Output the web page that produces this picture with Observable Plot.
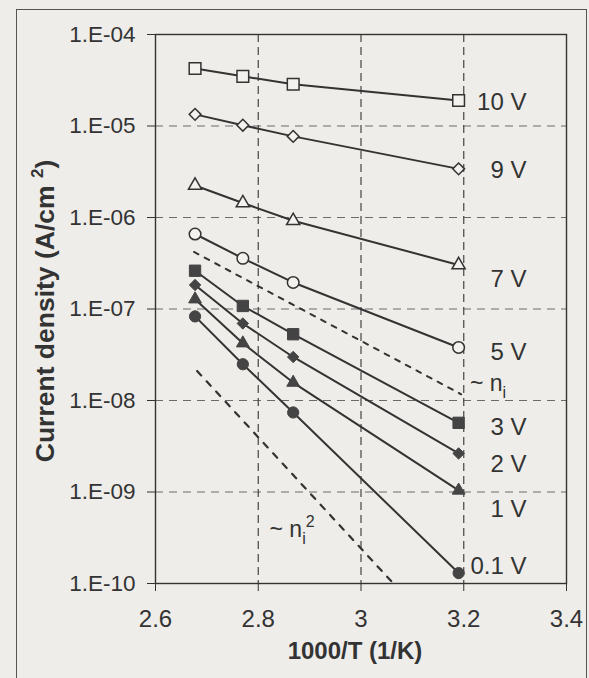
<!DOCTYPE html>
<html><head><meta charset="utf-8">
<script src="https://cdn.jsdelivr.net/npm/d3@7"></script>
<script src="https://cdn.jsdelivr.net/npm/@observablehq/plot@0.6"></script>
<style>
html,body{margin:0;padding:0;background:#eeede9;}
#wrap{position:relative;width:589px;height:678px;overflow:hidden;}
#border{position:absolute;left:16px;top:9px;width:571px;height:690px;border:1.5px solid #555;box-sizing:border-box;}
#chart{position:absolute;left:0;top:0;}
</style></head><body>
<div id="wrap"><div id="border"></div><div id="chart"></div></div>
<script>
// x values: 1000/T (1/K)
const invT = [2.677, 2.770, 2.868, 3.190];
// current density series (A/cm^2)
const j10V  = [4.25e-5, 3.49e-5, 2.86e-5, 1.90e-5];
const j9V   = [1.34e-5, 1.02e-5, 7.7e-6, 3.4e-6];
const j7V   = [2.24e-6, 1.44e-6, 9.2e-7, 3.03e-7];
const j5V   = [6.6e-7, 3.58e-7, 1.95e-7, 3.8e-8];
const j3V   = [2.62e-7, 1.08e-7, 5.3e-8, 5.7e-9];
const j2V   = [1.83e-7, 6.95e-8, 2.99e-8, 2.64e-9];
const j1V   = [1.28e-7, 4.23e-8, 1.57e-8, 1.04e-9];
const j01V  = [8.3e-8, 2.49e-8, 7.4e-9, 1.3e-10];
const seriesNames = ["10 V", "9 V", "7 V", "5 V", "3 V", "2 V", "1 V", "0.1 V"];
const seriesValues = [j10V, j9V, j7V, j5V, j3V, j2V, j1V, j01V];
const seriesSymbols = ["square", "diamond2", "triangle", "circle", "square", "diamond2", "triangle", "circle"];
const seriesOpen = [true, true, true, true, false, false, false, false];
// reference slopes (dashed)
const niX = [2.675, 3.195];
const niY = [4.2e-7, 1.17e-8];
const ni2X = [2.681, 3.063];
const ni2Y = [2.1e-8, 1.0e-10];
// label values
const labelY = [1.80e-5, 3.32e-6, 2.13e-7, 3.37e-8, 5.08e-9, 2.0e-9, 6.43e-10, 1.53e-10];
const labelX = 3.322;
const niLabel = {text: "~ ni", x: 3.212, y: 1.54e-8};
const ni2Label = {text: "~ ni2", x: 2.822, y: 3.88e-10};
// axes
const xTicks = [2.6, 2.8, 3.0, 3.2, 3.4];
const xGrid = [2.8, 3.0, 3.2];
const yTicks = [1e-10, 1e-9, 1e-8, 1e-7, 1e-6, 1e-5, 1e-4];
const yGrid = [1e-9, 1e-8, 1e-7, 1e-6, 1e-5];
const xTitle = "1000/T (1/K)";
const yTitle = "Current density (A/cm 2)";

const ink = "#333";
const bg = "#f3f2ef";
const sizes = {square: 6.6, diamond2: 5.3, triangle: 4.9, circle: 5.8};

const marks = [
  Plot.ruleY(yGrid, {stroke: "#6a6a6a", strokeDasharray: "8,6", strokeWidth: 1}),
  Plot.ruleX(xGrid, {stroke: "#444", strokeDasharray: "8,5", strokeWidth: 1.2}),
  Plot.frame({stroke: ink, strokeWidth: 1.4}),
  Plot.axisY({ticks: yTicks, tickSize: 8, tickPadding: 12, label: null, fontSize: 22.5,
    tickFormat: d => "1.E-" + String(-Math.round(Math.log10(d))).padStart(2, "0")}),
  Plot.axisX({ticks: xTicks, tickSize: 8, tickPadding: 18, label: null, fontSize: 24,
    tickFormat: d => d3.format("")(Math.round(d * 10) / 10)}),
  Plot.line(niX.map((x, i) => ({x, y: niY[i]})), {x: "x", y: "y", stroke: ink, strokeWidth: 2, strokeDasharray: "5,7"}),
  Plot.line(ni2X.map((x, i) => ({x, y: ni2Y[i]})), {x: "x", y: "y", stroke: ink, strokeWidth: 2.2, strokeDasharray: "6,8"})
];

seriesValues.forEach((vals, s) => {
  const data = vals.map((y, i) => ({x: invT[i], y}));
  marks.push(Plot.line(data, {x: "x", y: "y", stroke: ink, strokeWidth: 2}));
});
seriesValues.forEach((vals, s) => {
  const data = vals.map((y, i) => ({x: invT[i], y}));
  const sym = seriesSymbols[s];
  const open = seriesOpen[s];
  marks.push(Plot.dot(data, {x: "x", y: "y", symbol: sym, r: open ? sizes[sym] : sizes[sym] * 0.97,
    fill: open ? bg : "#444", stroke: open ? ink : "#444", strokeWidth: open ? 1.5 : 1}));
});

marks.push(Plot.text(seriesNames.map((t, i) => ({t, y: labelY[i]})), {x: labelX, y: "y", text: "t", textAnchor: "end", fontSize: 24, fill: ink}));
marks.push(Plot.text([niLabel, ni2Label], {x: "x", y: "y", text: "text", textAnchor: "start", fontSize: 23, fill: ink}));
marks.push(Plot.text([xTitle], {frameAnchor: "bottom", dy: 68, dx: -6, text: d => d, textAnchor: "middle", lineAnchor: "middle", fontWeight: "bold", fontSize: 24, fill: ink}));
marks.push(Plot.text([yTitle], {frameAnchor: "left", dx: -110, dy: 2, rotate: -90, text: d => d, textAnchor: "middle", lineAnchor: "middle", fontWeight: "bold", fontSize: 26.5, fill: ink}));

const chart = Plot.plot({
  width: 589, height: 678,
  marginLeft: 155, marginRight: 23, marginTop: 34, marginBottom: 95,
  x: {domain: [2.6, 3.4]},
  y: {type: "log", domain: [1e-10, 1e-4]},
  style: {background: "transparent", fontFamily: "'Liberation Sans', Arial, sans-serif", fontSize: "22px", color: ink},
  marks
});

// rich text: subscripts / superscripts
const rich = {
  "~ ni": [["~ n"], ["i", 7, 16]],
  "~ ni2": [["~ n"], ["i", 7, 16], ["2", -17, 16]],
  [yTitle]: [["Current density (A/cm "], ["2", -11, 17], [")", 11]]
};
d3.select(chart).selectAll("text").each(function() {
  const parts = rich[this.textContent];
  if (!parts) return;
  const sel = d3.select(this);
  sel.text(null);
  parts.forEach(([s, dy, fs]) => {
    const ts = sel.append("tspan").text(s);
    if (dy) ts.attr("dy", dy);
    if (fs) ts.attr("font-size", fs);
  });
});

document.getElementById("chart").appendChild(chart);
</script>
</body></html>
